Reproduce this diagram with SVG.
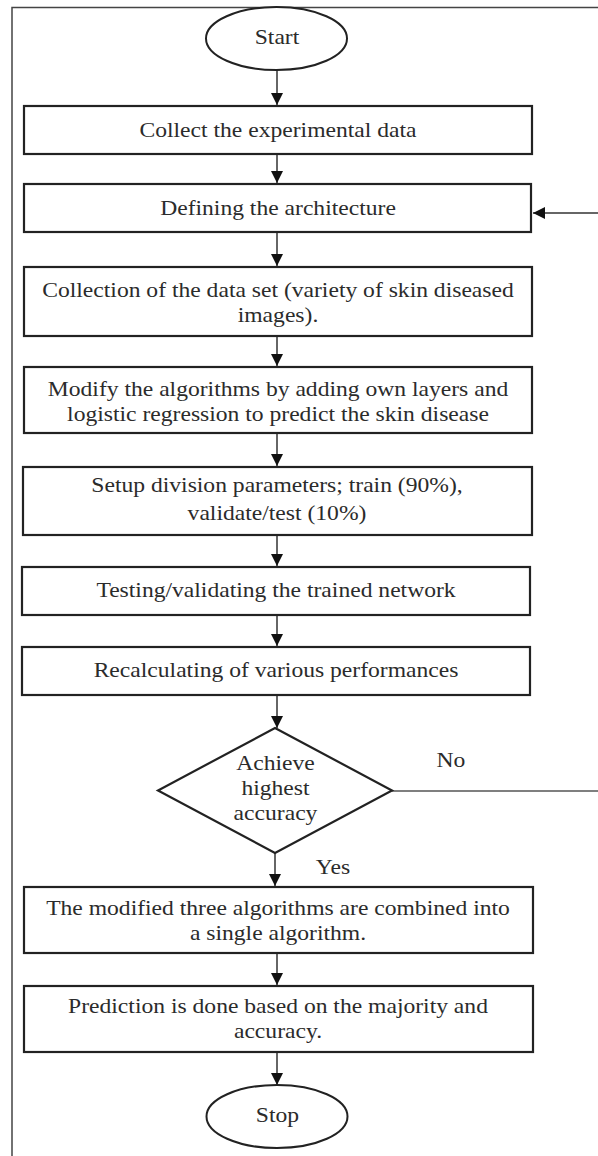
<svg xmlns="http://www.w3.org/2000/svg" width="598" height="1156" viewBox="0 0 598 1156">
<defs>
<marker id="ah" viewBox="0 0 10 10" refX="10" refY="5" markerWidth="12" markerHeight="12" markerUnits="userSpaceOnUse" orient="auto">
<path d="M0,0 L10,5 L0,10 z" fill="#111"/>
</marker>
<style>
.bg{fill:#fff}
.frame{fill:none;stroke:#444;stroke-width:1.5}
.box{fill:#fff;stroke:#222;stroke-width:2.2}
.term{fill:#fff;stroke:#222;stroke-width:2}
.con{fill:none;stroke:#333;stroke-width:1.5;marker-end:url(#ah)}
.lin{fill:none;stroke:#555;stroke-width:1.4}
.t{font-family:"Liberation Serif","Times New Roman",serif;font-size:20px;fill:#2b2b2b;text-anchor:middle}
</style>
</defs>
<rect class="bg" x="0" y="0" width="598" height="1156"/>
<path class="frame" d="M12,1156 V7.5 H598"/>

<g id="connectors">
<line class="con" x1="277" y1="70" x2="277" y2="105"/>
<line class="con" x1="277" y1="154" x2="277" y2="183"/>
<line class="con" x1="277" y1="232" x2="277" y2="266"/>
<line class="con" x1="277" y1="336" x2="277" y2="366"/>
<line class="con" x1="277" y1="433" x2="277" y2="466"/>
<line class="con" x1="277" y1="535" x2="277" y2="566"/>
<line class="con" x1="277" y1="615" x2="277" y2="646"/>
<line class="con" x1="277" y1="695" x2="277" y2="728"/>
<line class="con" x1="275" y1="853" x2="275" y2="886"/>
<line class="con" x1="277" y1="953" x2="277" y2="985"/>
<line class="con" x1="277" y1="1052" x2="277" y2="1085"/>
<line class="lin" x1="392" y1="791" x2="598" y2="791"/>
<line class="con" x1="598" y1="213" x2="533" y2="213"/>
<text class="t" transform="translate(451,767) scale(1.18,1)">No</text>
<text class="t" transform="translate(333,874) scale(1.18,1)">Yes</text>
</g>

<g id="start">
<ellipse class="term" cx="276.5" cy="38.5" rx="70.5" ry="31.5"/>
<text class="t" transform="translate(277,44) scale(1.18,1)">Start</text>
</g>

<g id="collect">
<rect class="box" x="24" y="106" width="508" height="48"/>
<text class="t" transform="translate(278,137) scale(1.18,1)">Collect the experimental data</text>
</g>

<g id="define">
<rect class="box" x="24" y="184" width="507" height="48"/>
<text class="t" transform="translate(278,215) scale(1.18,1)">Defining the architecture</text>
</g>

<g id="dataset">
<rect class="box" x="24" y="267" width="508" height="69"/>
<text class="t" transform="translate(278,297) scale(1.18,1)">Collection of the data set (variety of skin diseased<tspan x="0" dy="25">images).</tspan></text>
</g>

<g id="modify">
<rect class="box" x="24" y="367" width="508" height="66"/>
<text class="t" transform="translate(278,396) scale(1.18,1)">Modify the algorithms by adding own layers and<tspan x="0" dy="25">logistic regression  to predict the skin disease</tspan></text>
</g>

<g id="setup">
<rect class="box" x="23" y="467" width="509" height="68"/>
<text class="t" transform="translate(277,492) scale(1.18,1)">Setup division parameters; train (90%),<tspan x="0" dy="28">validate/test (10%)</tspan></text>
</g>

<g id="testing">
<rect class="box" x="22" y="567" width="508" height="48"/>
<text class="t" transform="translate(276,597) scale(1.18,1)">Testing/validating the trained network</text>
</g>

<g id="recalc">
<rect class="box" x="22" y="647" width="508" height="48"/>
<text class="t" transform="translate(276,677) scale(1.18,1)">Recalculating of various performances</text>
</g>

<g id="decision">
<polygon class="box" points="275,728 392,790.5 275,853 158,790.5"/>
<text class="t" transform="translate(275.5,770) scale(1.18,1)">Achieve<tspan x="0" dy="25">highest</tspan><tspan x="0" dy="25">accuracy</tspan></text>
</g>

<g id="combine">
<rect class="box" x="24" y="887" width="509" height="66"/>
<text class="t" transform="translate(278,915) scale(1.18,1)">The modified three algorithms are combined into<tspan x="0" dy="25">a single algorithm.</tspan></text>
</g>

<g id="predict">
<rect class="box" x="24" y="986" width="509" height="66"/>
<text class="t" transform="translate(278,1013) scale(1.18,1)">Prediction is done based on the majority and<tspan x="0" dy="25">accuracy.</tspan></text>
</g>

<g id="stop">
<ellipse class="term" cx="277" cy="1116.5" rx="70.5" ry="31.5"/>
<text class="t" transform="translate(277.5,1122) scale(1.18,1)">Stop</text>
</g>
</svg>
